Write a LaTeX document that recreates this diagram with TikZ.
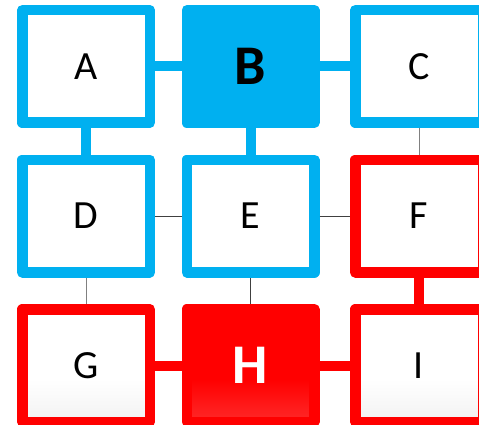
\documentclass[tikz,border=0pt]{standalone}
\usepackage{fontspec}
\setmainfont{Carlito}
\usetikzlibrary{positioning, calc}

\definecolor{cellblue}{HTML}{00B0F0}
\definecolor{cellred}{HTML}{FF0000}

% soft fade at the foot of the bottom row
\pgfdeclareverticalshading{palefoot}{100bp}{color(0bp)=(black!5); color(25bp)=(black!5);
    color(44bp)=(white); color(100bp)=(white)}
\pgfdeclareverticalshading{redfoot}{100bp}{color(0bp)=(cellred!84!white); color(25bp)=(cellred!84!white);
    color(44bp)=(cellred); color(100bp)=(cellred)}

\begin{document}
\begin{tikzpicture}[x=1pt, y=-1pt, line join=round, line cap=butt,
    cell/.style={draw, line width=10.5pt, minimum width=127.5pt, minimum height=112.5pt,
        inner sep=0pt, font=\fontsize{40}{40}\selectfont},
    bluecell/.style={cell, draw=cellblue, fill=white},
    redcell/.style={cell, draw=cellred, shading=palefoot},
    bigletter/.style={font=\fontsize{56}{56}\selectfont\bfseries},
    thicklink/.style={line width=10pt},
    thinlink/.style={line width=0.8pt}]
    \useasboundingbox (0,0) rectangle (479,425);

    % top row
    \node[bluecell] (A) at (86, 66.5) {A};
    \node[bluecell, fill=cellblue, bigletter] (B) at (250.5, 66.5) {B};
    \node[bluecell] (C) at (419, 66.5) {C};

    % middle row
    \node[bluecell] (D) at (86, 216) {D};
    \node[bluecell] (E) at (250.5, 216) {E};
    \node[cell, draw=cellred, fill=white] (F) at (419, 216) {F};

    % bottom row
    \node[redcell] (G) at (86, 365.5) {G};
    \node[cell, draw=cellred, shading=redfoot, text=white, bigletter] (H) at (250.5, 365.5) {H};
    \node[redcell] (I) at (419, 365.5) {I};

    % thick links
    \draw[thicklink, cellblue] (A.east) -- (B.west);
    \draw[thicklink, cellblue] (B.east) -- (C.west);
    \draw[thicklink, cellblue] (A.south) -- (D.north);
    \draw[thicklink, cellblue] (B.south) -- (E.north);
    \draw[thicklink, cellred] (F.south) -- (I.north);
    \draw[thicklink, cellred] (G.east) -- (H.west);
    \draw[thicklink, cellred] (H.east) -- (I.west);

    % thin links
    \draw[thinlink, gray] (C.south) -- (F.north);
    \draw[thinlink, gray] (D.south) -- (G.north);
    \draw[thinlink, black!75] (D.east) -- (E.west);
    \draw[thinlink, black!75] (E.east) -- (F.west);
    \draw[thinlink, black!75] (E.south) -- (H.north);
\end{tikzpicture}
\end{document}
